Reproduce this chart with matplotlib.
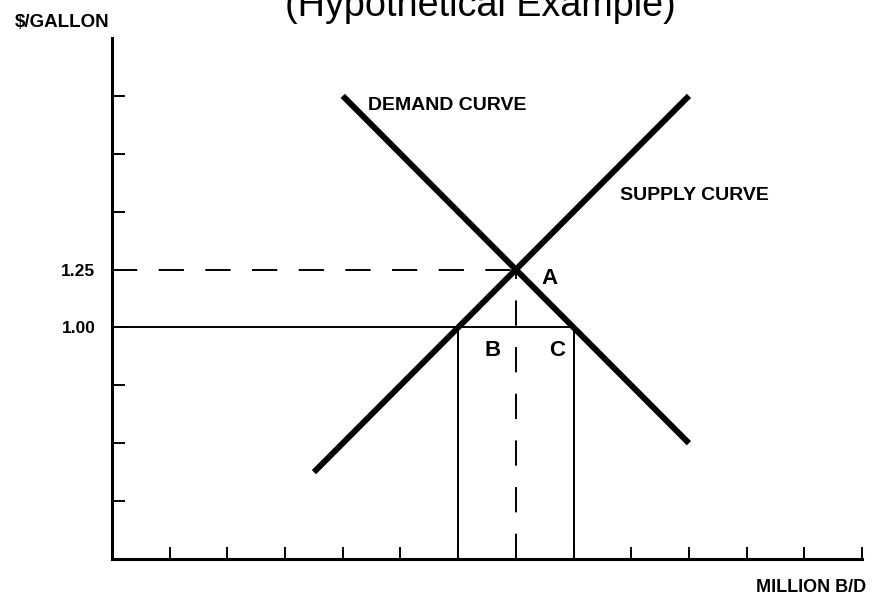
import matplotlib
matplotlib.use("Agg")
import matplotlib.pyplot as plt

plt.rcParams['font.family'] = ['Liberation Sans', 'DejaVu Sans']

# supply / demand lines (quantity in million b/d, price in $/gallon)
demand_q = [4, 10]
demand_p = [2.00, 0.50]
supply_q = [3.5, 10]
supply_p = [0.375, 2.00]

eq_q = 7
eq_p = 1.25
ceiling_p = 1.00
supplied_q = 6
demanded_q = 8

x_ticks = list(range(1, 14))
y_ticks = [0.25, 0.50, 0.75, 1.00, 1.25, 1.50, 1.75, 2.00]
y_labels = {1.00: "1.00", 1.25: "1.25"}

fig = plt.figure(figsize=(8.76, 5.96), dpi=100)
ax = fig.add_axes([112/876, 37/596, 750/876, 521/596])

ax.plot(demand_q, demand_p, color='black', lw=4.3, solid_capstyle='butt')
ax.plot(supply_q, supply_p, color='black', lw=4.3, solid_capstyle='butt')

# equilibrium dashes
ax.plot([0, eq_q], [eq_p, eq_p], color='black', lw=1.4, dashes=(13, 11))
ax.plot([eq_q, eq_q], [0, eq_p], color='black', lw=1.4, dashes=(13, 11))

# price ceiling and shortage box
ax.plot([0, demanded_q], [ceiling_p, ceiling_p], color='black', lw=1.4)
ax.plot([supplied_q, supplied_q], [0, ceiling_p], color='black', lw=1.4)
ax.plot([demanded_q, demanded_q], [0, ceiling_p], color='black', lw=1.4)

ax.text(4.44, 1.937, "DEMAND CURVE", fontsize=14, fontweight='bold', va='baseline')
ax.text(8.80, 1.551, "SUPPLY CURVE", fontsize=14, fontweight='bold', va='baseline')
ax.text(7.58, 1.187, "A", fontsize=16, fontweight='bold', ha='center', va='baseline')
ax.text(6.59, 0.875, "B", fontsize=16, fontweight='bold', ha='center', va='baseline')
ax.text(7.72, 0.875, "C", fontsize=16, fontweight='bold', ha='center', va='baseline')

ax.set_xlim(0, 13)
ax.set_ylim(0, 2.25)
ax.set_xticks(x_ticks)
ax.set_xticklabels([])
ax.set_yticks(y_ticks)
ax.set_yticklabels([y_labels.get(v, "") for v in y_ticks], fontsize=12.5, fontweight='bold')
ax.tick_params(direction='in', length=9, width=1.4, pad=12)

for s in ['top', 'right']:
    ax.spines[s].set_visible(False)
for s in ['left', 'bottom']:
    ax.spines[s].set_linewidth(2.2)

fig.text(15/876, 1 - 27/596, "$/GALLON", fontsize=13.5, fontweight='bold', va='baseline')
fig.text(866/876, 1 - 592/596, "MILLION B/D", fontsize=13, fontweight='bold', ha='right', va='baseline')
fig.text(480/876, 1 - 16/596, "(Hypothetical Example)", fontsize=27.2, ha='center', va='baseline')

fig.savefig("out.png", dpi=100)
